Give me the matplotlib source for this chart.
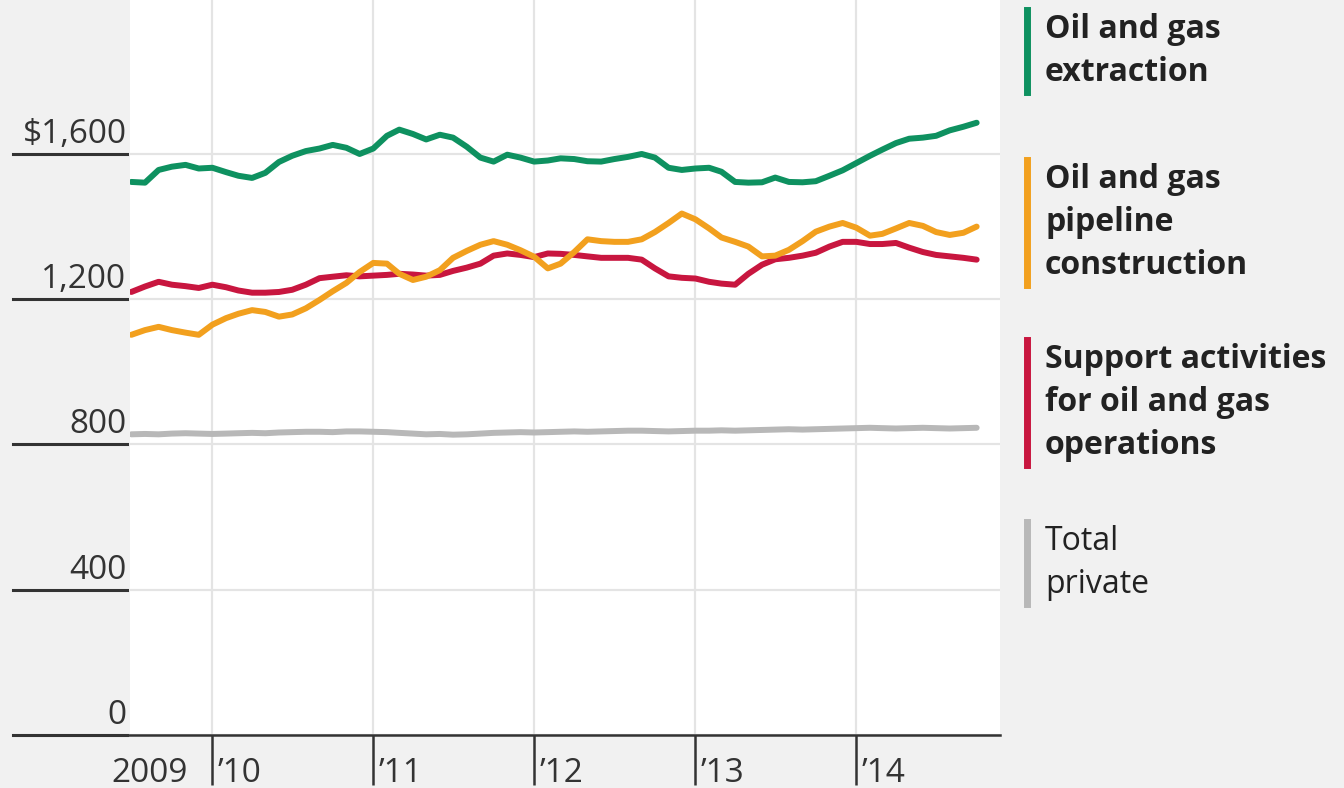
import pandas as pd
import matplotlib.pyplot as plt
import matplotlib.transforms as mtransforms

# Monthly series, July 2009 through October 2014
months = pd.date_range('2009-07-01', periods=64, freq='MS')

extraction = [
    1523, 1521, 1556, 1565, 1570, 1560,
    1562, 1550, 1540, 1534, 1548, 1578, 1595, 1608, 1615, 1625, 1617, 1600,
    1615, 1650, 1667, 1655, 1640, 1653, 1645, 1620, 1590, 1579, 1598, 1590,
    1579, 1582, 1588, 1586, 1580, 1579, 1586, 1592, 1600, 1590, 1562, 1556,
    1560, 1562, 1551, 1523, 1521, 1522, 1535, 1523, 1522, 1525, 1540, 1555,
    1575, 1595, 1612, 1630, 1642, 1645, 1650, 1665, 1675, 1686,
]
pipeline = [
    1102, 1115, 1124, 1115, 1108, 1102,
    1130, 1148, 1160, 1170, 1165, 1152, 1158, 1175, 1198, 1222, 1245, 1275,
    1300, 1298, 1270, 1253, 1262, 1280, 1314, 1333, 1350, 1360, 1350, 1335,
    1317, 1285, 1298, 1330, 1365, 1360, 1358, 1358, 1365, 1385, 1410, 1436,
    1420, 1395, 1370, 1358, 1345, 1318, 1320, 1336, 1360, 1386, 1400, 1410,
    1397, 1375, 1380, 1395, 1410, 1402, 1385, 1377, 1383, 1400,
]
support = [
    1220, 1235, 1248, 1240, 1236, 1231,
    1240, 1233, 1224, 1218, 1218, 1220, 1226, 1240, 1258, 1262, 1266, 1263,
    1265, 1267, 1270, 1268, 1265, 1267, 1278, 1287, 1298, 1320, 1326, 1322,
    1316, 1326, 1325, 1322, 1318, 1314, 1314, 1314, 1309, 1285, 1263, 1259,
    1257, 1248, 1243, 1240, 1270, 1295, 1310, 1314, 1320, 1328, 1345, 1358,
    1358, 1352, 1352, 1355, 1342, 1330, 1322, 1318, 1314, 1309,
]
total_private = [
    828, 829, 828, 830, 831, 830,
    829, 830, 831, 832, 831, 833, 834, 835, 835, 834, 836, 836,
    835, 834, 832, 830, 828, 829, 827, 828, 830, 832, 833, 834,
    833, 834, 835, 836, 835, 836, 837, 838, 838, 837, 836, 837,
    838, 838, 839, 838, 839, 840, 841, 842, 841, 842, 843, 844,
    845, 846, 845, 844, 845, 846, 845, 844, 845, 846,
]

y_ticks = [0, 400, 800, 1200, 1600]
y_labels = ['0', '400', '800', '1,200', '$1,600']
year_starts = pd.to_datetime(['2010-01-01', '2011-01-01', '2012-01-01',
                              '2013-01-01', '2014-01-01'])
year_labels = ['\u201910', '\u201911', '\u201912', '\u201913', '\u201914']

green = '#0e9160'
orange = '#f2a01e'
red = '#c8163f'
gray = '#b8b8b8'
ink = '#333333'

series = [
    ('Oil and gas\nextraction', extraction, green, 'bold'),
    ('Oil and gas\npipeline\nconstruction', pipeline, orange, 'bold'),
    ('Support activities\nfor oil and gas\noperations', support, red, 'bold'),
    ('Total\nprivate', total_private, gray, 'normal'),
]

plt.rcParams['font.family'] = ['Open Sans', 'DejaVu Sans']

W, H = 1344, 788
fig = plt.figure(figsize=(W / 100, H / 100), dpi=100, facecolor='#f1f1f1')
ax = fig.add_axes([130 / W, 1 - 735 / H, 870 / W, 735 / H])
ax.set_facecolor('white')

# data lines, gray first so the others sit on top
for name, vals, col, wt in reversed(series):
    ax.plot(months, vals, color=col, lw=4.3, solid_capstyle='round', zorder=3)

ax.set_ylim(0, 2024)
ax.set_xlim(pd.Timestamp('2009-06-28'), pd.Timestamp('2014-11-23'))

# grid
ax.set_yticks(y_ticks)
ax.set_xticks(year_starts)
ax.grid(True, color='#e4e4e4', lw=1.6, zorder=0)
ax.tick_params(axis='y', length=0, labelleft=False)
ax.tick_params(axis='x', direction='out', length=36, width=1.8, color=ink,
               labelbottom=False)
for s in ax.spines.values():
    s.set_visible(False)

# axis line extended to the left edge
ax.plot([-0.134, 1.0], [0, 0], transform=ax.get_yaxis_transform(),
        color=ink, lw=1.8, clip_on=False, zorder=4)

# y labels sitting on short rules
ytrans = mtransforms.offset_copy(ax.get_yaxis_transform(), fig=fig,
                                 y=11, units='dots')
for v, lab in zip(y_ticks, y_labels):
    ax.plot([-0.134, -0.004], [v, v], transform=ax.get_yaxis_transform(),
            color=ink, lw=2.2, clip_on=False)
    ax.text(-0.004, v, lab, transform=ytrans, ha='right', va='baseline',
            fontsize=24, color=ink)

# year labels
xtrans = ax.get_xaxis_transform()
for d, lab in zip(year_starts, year_labels):
    ax.text(d + pd.Timedelta(days=12), -0.064, lab, transform=xtrans,
            ha='left', va='baseline', fontsize=24, color=ink)
ax.text(pd.Timestamp('2009-11-05'), -0.064, '2009', transform=xtrans,
        ha='right', va='baseline', fontsize=24, color=ink)

# key on the right
key_tops = [10, 160, 340, 522]
line_h = 43
for (name, vals, col, wt), top in zip(series, key_tops):
    n = name.count('\n') + 1
    fig.add_artist(plt.Line2D([1027 / W, 1027 / W],
                              [1 - top / H, 1 - (top + n * line_h - 4) / H],
                              color=col, lw=5))
    fig.text(1045 / W, 1 - (top + 3) / H, name, ha='left', va='top',
             fontsize=23, fontweight=wt, color='#222222', linespacing=1.4)

fig.savefig('out.png', dpi=100, facecolor=fig.get_facecolor())
